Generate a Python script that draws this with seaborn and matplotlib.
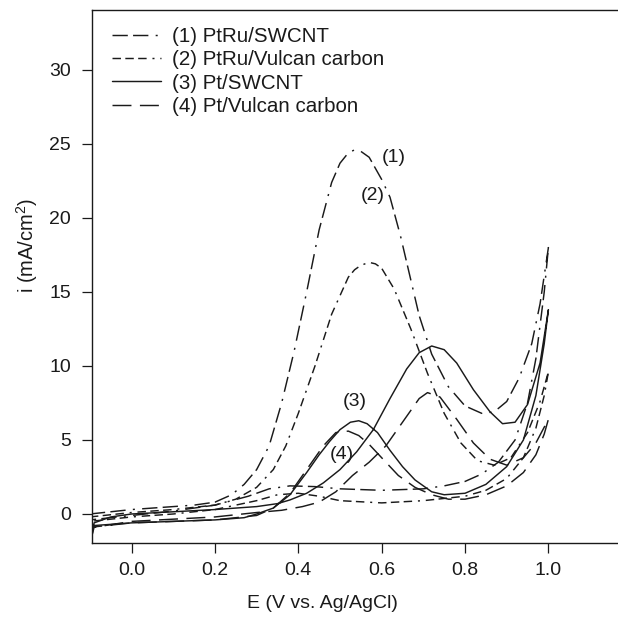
import numpy as np
import pandas as pd
import matplotlib
matplotlib.use("Agg")
import matplotlib.pyplot as plt
import seaborn as sns

# ---------------- data ----------------
labels = ["(1) PtRu/SWCNT", "(2) PtRu/Vulcan carbon", "(3) Pt/SWCNT", "(4) Pt/Vulcan carbon"]

# (1) PtRu/SWCNT
f1_E = [-0.1, -0.05, 0.0, 0.05, 0.1, 0.15, 0.2, 0.24, 0.27, 0.30, 0.33, 0.36, 0.39, 0.42, 0.45, 0.48, 0.50, 0.52,
        0.535, 0.55, 0.57, 0.60, 0.62, 0.645, 0.67, 0.69, 0.72, 0.76, 0.80, 0.84, 0.87, 0.90, 0.93, 0.96, 0.98, 1.0]
f1_i = [0.0, 0.15, 0.3, 0.4, 0.5, 0.6, 0.8, 1.3, 2.0, 3.0, 4.6, 7.5, 11.0, 15.0, 19.2, 22.4, 23.7, 24.4,
        24.6, 24.5, 24.1, 22.6, 21.4, 18.8, 15.8, 13.4, 10.8, 8.6, 7.3, 6.8, 6.9, 7.6, 9.2, 11.5, 14.2, 18.0]
r1_E = [1.0, 0.99, 0.97, 0.95, 0.92, 0.88, 0.84, 0.8, 0.75, 0.7, 0.6, 0.5, 0.44, 0.38, 0.33, 0.28, 0.2, 0.1, 0.0, -0.1]
r1_i = [18.0, 15.0, 10.5, 7.5, 5.0, 3.5, 2.7, 2.2, 1.9, 1.7, 1.6, 1.7, 1.85, 1.9, 1.7, 1.2, 0.6, 0.2, -0.1, -0.4]

# (2) PtRu/Vulcan carbon
f2_E = [-0.1, 0.0, 0.1, 0.2, 0.25, 0.3, 0.34, 0.37, 0.4, 0.44, 0.48, 0.52, 0.535, 0.55, 0.57, 0.585, 0.6, 0.63,
        0.67, 0.71, 0.75, 0.79, 0.83, 0.87, 0.91, 0.95, 0.98, 1.0]
f2_i = [-0.2, 0.1, 0.3, 0.6, 1.0, 1.8, 3.0, 4.6, 6.8, 10.0, 13.5, 16.0, 16.5, 16.8, 17.0, 16.9, 16.6, 15.2,
        12.5, 9.5, 6.8, 4.8, 3.6, 3.3, 3.8, 5.5, 7.6, 9.6]
r2_E = [1.0, 0.99, 0.97, 0.94, 0.9, 0.85, 0.8, 0.7, 0.6, 0.5, 0.45, 0.4, 0.35, 0.3, 0.2, 0.1, 0.0, -0.1]
r2_i = [9.6, 8.0, 5.8, 3.8, 2.4, 1.6, 1.2, 0.9, 0.75, 0.9, 1.2, 1.4, 1.3, 0.9, 0.3, 0.0, -0.2, -0.5]

# (3) Pt/SWCNT
f3_E = [-0.1, -0.09, -0.05, 0.0, 0.1, 0.2, 0.3, 0.35, 0.38, 0.42, 0.46, 0.5, 0.54, 0.58, 0.62, 0.66, 0.69, 0.72,
        0.75, 0.78, 0.82, 0.86, 0.89, 0.92, 0.95, 0.98, 1.0]
f3_i = [-2.3, -0.6, -0.2, 0.0, 0.15, 0.3, 0.5, 0.7, 0.95, 1.4, 2.1, 3.0, 4.2, 5.7, 7.8, 9.8, 10.9, 11.35,
        11.1, 10.2, 8.4, 6.9, 6.1, 6.2, 7.4, 10.2, 13.8]
r3_E = [1.0, 0.99, 0.97, 0.94, 0.9, 0.85, 0.8, 0.75, 0.72, 0.68, 0.65, 0.62, 0.59, 0.565, 0.545, 0.525, 0.5,
        0.475, 0.45, 0.42, 0.38, 0.34, 0.3, 0.27, 0.2, 0.1, 0.0, -0.1]
r3_i = [13.8, 11.5, 8.0, 5.0, 3.2, 2.0, 1.4, 1.3, 1.5, 2.3, 3.2, 4.3, 5.5, 6.1, 6.3, 6.2, 5.7,
        4.9, 4.0, 2.8, 1.3, 0.4, 0.0, -0.25, -0.4, -0.5, -0.6, -0.8]

# (4) Pt/Vulcan carbon
f4_E = [-0.1, -0.09, 0.0, 0.1, 0.2, 0.3, 0.36, 0.41, 0.45, 0.49, 0.53, 0.57, 0.61, 0.65, 0.69, 0.71, 0.74, 0.78,
        0.82, 0.86, 0.9, 0.94, 0.97, 1.0]
f4_i = [-2.0, -0.9, -0.5, -0.35, -0.2, 0.1, 0.25, 0.5, 0.8, 1.5, 2.6, 3.5, 4.6, 6.2, 7.8, 8.2, 7.9, 6.4,
        4.8, 3.7, 3.3, 3.8, 4.8, 6.4]
r4_E = [1.0, 0.99, 0.97, 0.94, 0.9, 0.85, 0.8, 0.76, 0.72, 0.68, 0.64, 0.6, 0.57, 0.545, 0.52, 0.49, 0.46, 0.42,
        0.38, 0.34, 0.3, 0.2, 0.1, 0.0, -0.1]
r4_i = [6.4, 5.4, 4.0, 2.8, 1.9, 1.3, 1.0, 1.0, 1.3, 1.8, 2.6, 3.8, 4.7, 5.3, 5.6, 5.5, 4.6, 3.0,
        1.4, 0.4, -0.1, -0.4, -0.5, -0.6, -0.9]

xticks = [0.0, 0.2, 0.4, 0.6, 0.8, 1.0]
xtick_labels = ["0.0", "0.2", "0.4", "0.6", "0.8", "1.0"]
yticks = [0, 5, 10, 15, 20, 25, 30]

annot_text = ["(1)", "(2)", "(3)", "(4)"]
annot_E = [0.628, 0.578, 0.535, 0.505]
annot_i = [24.1, 21.5, 7.6, 4.0]

# ---------------- styling ----------------
sns.set_theme(style="ticks")
plt.rcParams["font.family"] = ["Liberation Sans", "DejaVu Sans"]
plt.rcParams["mathtext.default"] = "regular"

ink = "#1a1a1a"
fs = 14
styles = [
    (0, (10.5, 3.6, 10.5, 5.0, 1.4, 5.0)),
    (0, (5.8, 3.0, 5.8, 3.0, 5.8, 4.0, 1.4, 4.0)),
    "-",
    (0, (13.0, 5.8)),
]

fig = plt.figure(figsize=(6.18, 6.19), dpi=100)
ax = fig.add_axes([92 / 618, 76 / 619, 526 / 618, 533 / 619])

curves = [
    (f1_E, f1_i, r1_E, r1_i),
    (f2_E, f2_i, r2_E, r2_i),
    (f3_E, f3_i, r3_E, r3_i),
    (f4_E, f4_i, r4_E, r4_i),
]
for (fe, fi, re, ri), lab, ls in zip(curves, labels, styles):
    df = pd.DataFrame({"E": list(fe) + list(re), "i": list(fi) + list(ri)})
    sns.lineplot(data=df, x="E", y="i", sort=False, estimator=None, color=ink,
                 linewidth=1.05, linestyle=ls, label=lab, ax=ax)

for t, e, v in zip(annot_text, annot_E, annot_i):
    ax.text(e, v, t, fontsize=fs, color=ink, ha="center", va="center")

ax.set_xlim(-0.095, 1.167)
ax.set_ylim(-1.96, 34.05)
ax.set_xticks(xticks)
ax.set_xticklabels(xtick_labels)
ax.set_yticks(yticks)

for s in ["left", "bottom", "top"]:
    ax.spines[s].set_color(ink)
    ax.spines[s].set_linewidth(1.0)
ax.spines["right"].set_visible(False)

ax.tick_params(axis="both", direction="out", length=7, width=0.9, colors=ink, labelsize=fs)
ax.tick_params(axis="x", pad=7)
ax.tick_params(axis="y", pad=8)

ax.set_xlabel("E (V vs. Ag/AgCl)", fontsize=fs, color=ink)
ax.set_ylabel("i (mA/cm$^2$)", fontsize=14.5, color=ink)
ax.xaxis.set_label_coords(0.439, -0.098)
ax.yaxis.set_label_coords(-0.099, 0.559)

handles, labs = ax.get_legend_handles_labels()
ax.legend(handles, labs, loc="upper left", bbox_to_anchor=(20 / 526, 0.968), frameon=False,
          borderpad=0, borderaxespad=0, handlelength=2.4, handletextpad=0.5,
          labelspacing=0.21, fontsize=14.8, labelcolor=ink)

fig.savefig("out.png", dpi=100)
